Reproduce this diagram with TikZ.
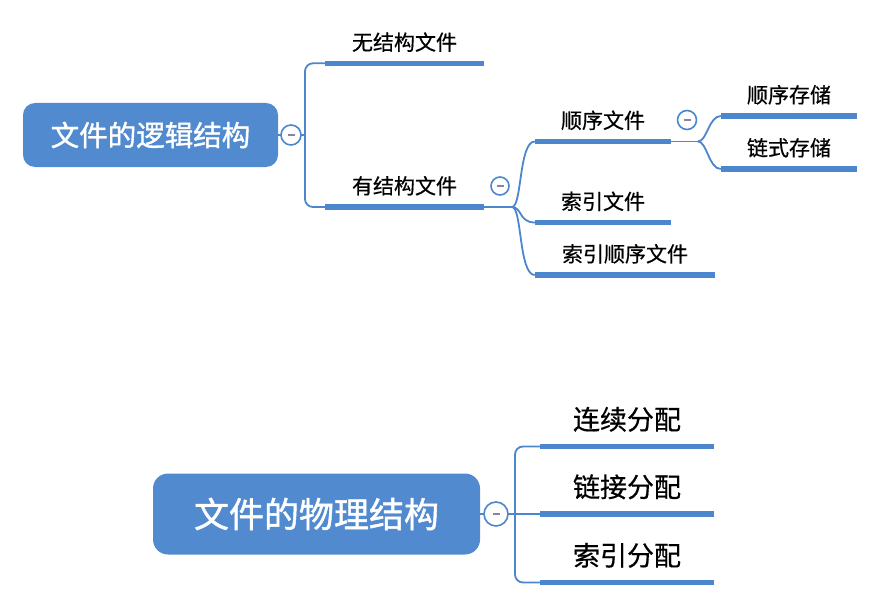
\documentclass[tikz,border=0pt]{standalone}
\usepackage{fontspec}
\setmainfont{Noto Sans CJK SC}[FakeBold=0.5]
\newfontfamily\rootfont{Noto Sans CJK SC}[FakeBold=1.3]
\definecolor{lineblue}{RGB}{76,134,204}
\definecolor{boxblue}{RGB}{82,138,208}
\definecolor{minusgray}{RGB}{140,130,160}
\begin{document}
\begin{tikzpicture}[x=1pt,y=-1pt,
  rootbox/.style={fill=boxblue, rounded corners=12pt, text=white, inner sep=0pt},
  leaf/.style={anchor=south, minimum height=42pt, inner sep=0pt, font=\fontsize{21}{25}\selectfont},
  bigleaf/.style={anchor=south, minimum height=54pt, inner sep=0pt, font=\fontsize{27}{32}\selectfont},
  uline/.style={draw=lineblue, line width=5.5pt},
  conn/.style={draw=lineblue, line width=1.8pt},
  toggle/.style={circle, draw=lineblue, line width=1.6pt, fill=white, inner sep=0pt,
    path picture={\draw[color=minusgray, line width=1.2pt] ([xshift=-3.5pt]path picture bounding box.center) -- ([xshift=3.5pt]path picture bounding box.center);}}
]
\useasboundingbox (0,0) rectangle (891,599);

% ---------- top tree ----------
\node[rootbox, minimum width=255pt, minimum height=64pt, font=\rootfont\fontsize{28.5}{34}\selectfont] (root1) at (150.5,135) {文件的逻辑结构};

\node[leaf, minimum width=158pt] (wjg) at (404.5,63.3) {无结构文件};
\node[leaf, minimum width=158pt] (yjg) at (404.5,207) {有结构文件};
\node[leaf, minimum width=136pt] (sx) at (603,141.5) {顺序文件};
\node[leaf, minimum width=136pt] (sy) at (603,222.5) {索引文件};
\node[leaf, minimum width=180pt] (sysx) at (625,275) {索引顺序文件};
\node[leaf, minimum width=136pt] (sxcc) at (789,116) {顺序存储};
\node[leaf, minimum width=136pt] (lscc) at (789,169) {链式存储};

\coordinate (j1) at (305,135);
\coordinate (j2) at (512,207);
\coordinate (j3) at (698,141.5);

\draw[conn] (root1.east) -- (j1);
\draw[conn, rounded corners=8pt] (wjg.south west) -- (wjg.south west -| j1) -- (yjg.south west -| j1) -- (yjg.south west);
\draw[conn] (yjg.south east) -- (j2);
\draw[conn] (j2) .. controls +(10,0) and +(-16,0) .. (sx.south west);
\draw[conn] (j2) .. controls +(10,0) and +(-16,0) .. (sy.south west);
\draw[conn] (j2) .. controls +(10,0) and +(-16,0) .. (sysx.south west);
\draw[conn] (sx.south east) -- (j3);
\draw[conn] (j3) .. controls +(9,0) and +(-12,0) .. (sxcc.south west);
\draw[conn] (j3) .. controls +(9,0) and +(-12,0) .. (lscc.south west);

\foreach \n in {wjg,yjg,sx,sy,sysx,sxcc,lscc}
  \draw[uline] (\n.south west) -- (\n.south east);

\node[toggle, minimum size=20pt] (t1) at (291,135) {};
\node[toggle, minimum size=18pt] (t2) at (500,186) {};
\node[toggle, minimum size=19pt] (t3) at (687,120) {};

% ---------- bottom tree ----------
\node[rootbox, rounded corners=15pt, minimum width=327pt, minimum height=81pt, font=\rootfont\fontsize{35}{42}\selectfont] (root2) at (316.5,514) {文件的物理结构};

\node[bigleaf, minimum width=174pt] (lx) at (627,446.5) {连续分配};
\node[bigleaf, minimum width=174pt] (lj) at (627,514) {链接分配};
\node[bigleaf, minimum width=174pt] (sy2) at (627,582.5) {索引分配};

\coordinate (j4) at (515,514);
\draw[conn] (root2.east) -- (lj.south west);
\draw[conn, rounded corners=8pt] (lx.south west) -- (lx.south west -| j4) -- (sy2.south west -| j4) -- (sy2.south west);

\foreach \n in {lx,lj,sy2}
  \draw[uline] (\n.south west) -- (\n.south east);

\node[toggle, minimum size=24pt] (t4) at (496,514) {};
\end{tikzpicture}
\end{document}
